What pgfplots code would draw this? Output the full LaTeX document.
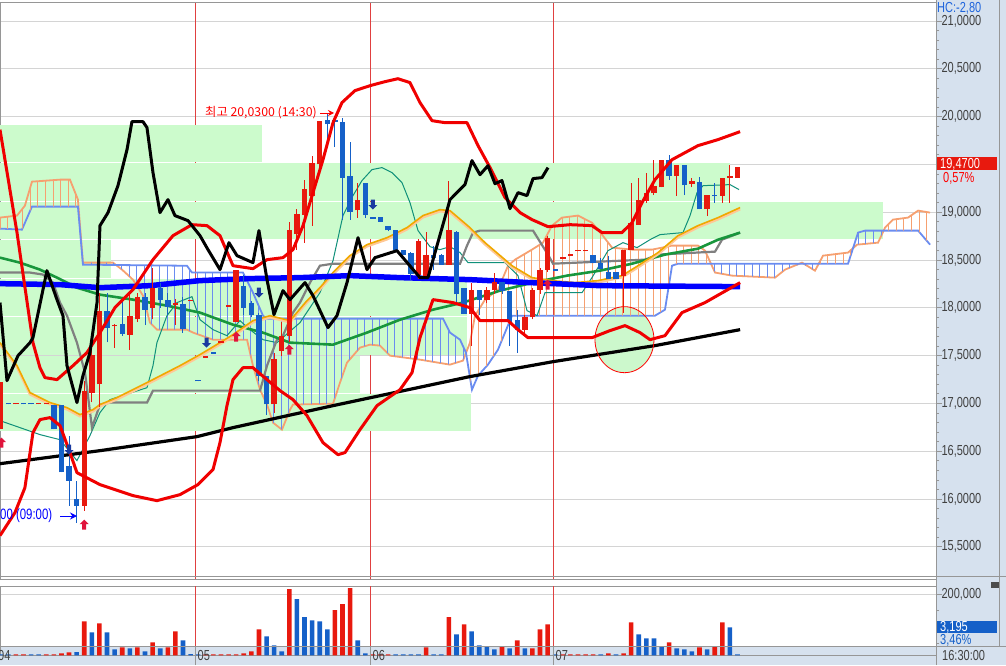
\documentclass[border=0pt]{standalone}
\usepackage{pgfplots}
\usepackage{pgfplotstable}
\pgfplotsset{compat=1.18}
\usetikzlibrary{patterns.meta,arrows.meta}
\usepackage{fontspec}
\setmainfont{Liberation Sans}
\newfontfamily\numfont[FakeStretch=0.76]{Liberation Sans}
\newfontfamily\krfont{Noto Sans CJK KR}

\definecolor{cred}{RGB}{232,25,14}
\definecolor{cblue}{RGB}{21,96,200}
\definecolor{bbred}{RGB}{240,0,0}
\definecolor{boxgreen}{RGB}{204,251,204}
\definecolor{panel}{RGB}{214,225,238}
\definecolor{gridgray}{RGB}{212,212,212}
\definecolor{sepgray}{RGB}{150,150,150}
\definecolor{maorange}{RGB}{240,168,0}
\definecolor{mapeach}{RGB}{255,200,150}
\definecolor{magreen}{RGB}{24,150,60}
\definecolor{kijun}{RGB}{128,128,128}
\definecolor{tenkan}{RGB}{16,144,122}
\definecolor{spanA}{RGB}{246,160,112}
\definecolor{spanB}{RGB}{106,140,240}
\definecolor{dayred}{RGB}{224,64,64}
\definecolor{arrred}{RGB}{224,20,60}
\definecolor{arrblue}{RGB}{26,58,160}
\definecolor{txtgray}{RGB}{64,64,64}
\definecolor{circgreen}{RGB}{204,248,204}
\definecolor{hcblue}{RGB}{30,100,220}

\pgfdeclareplotmark{uparr}{%
  \pgfpathmoveto{\pgfqpoint{0pt}{5pt}}%
  \pgfpathlineto{\pgfqpoint{4.5pt}{0.5pt}}%
  \pgfpathlineto{\pgfqpoint{2pt}{0.5pt}}%
  \pgfpathlineto{\pgfqpoint{2pt}{-5pt}}%
  \pgfpathlineto{\pgfqpoint{-2pt}{-5pt}}%
  \pgfpathlineto{\pgfqpoint{-2pt}{0.5pt}}%
  \pgfpathlineto{\pgfqpoint{-4.5pt}{0.5pt}}%
  \pgfpathclose\pgfusepathqfill}
\pgfdeclareplotmark{dnarr}{%
  \pgfpathmoveto{\pgfqpoint{0pt}{-5pt}}%
  \pgfpathlineto{\pgfqpoint{4.5pt}{-0.5pt}}%
  \pgfpathlineto{\pgfqpoint{2pt}{-0.5pt}}%
  \pgfpathlineto{\pgfqpoint{2pt}{5pt}}%
  \pgfpathlineto{\pgfqpoint{-2pt}{5pt}}%
  \pgfpathlineto{\pgfqpoint{-2pt}{-0.5pt}}%
  \pgfpathlineto{\pgfqpoint{-4.5pt}{-0.5pt}}%
  \pgfpathclose\pgfusepathqfill}

\pgfplotstableread{
i o h l c
-26 16.73 17.22 16.73 17.22
-24 16.99 17.00 16.99 17.00
-21 16.99 17.00 16.99 17.00
-20 16.99 17.00 16.99 17.00
-15 15.93 17.24 15.88 17.13
-14 17.11 17.64 17.01 17.51
-13 17.20 18.16 16.96 17.97
-11 17.805 17.83 17.58 17.825
-9 17.72 18.16 17.56 17.91
-8 17.88 18.16 17.85 18.11
-6 18.00 18.42 17.88 18.21
-3 18.03 18.09 17.82 18.05
-1 18.07 18.08 18.07 18.08
1 17.48 17.50 17.48 17.50
3 17.63 17.65 17.63 17.65
4 18.01 18.03 18.01 18.03
5 17.85 18.40 17.85 18.40
10 16.99 17.53 16.90 17.46
11 17.55 17.85 17.50 17.71
12 17.71 18.90 17.64 18.81
13 18.77 19.03 18.61 18.98
14 18.97 19.34 18.68 19.24
15 19.17 19.59 18.86 19.51
16 19.50 19.95 19.45 19.95
21 19.02 19.31 18.94 19.13
29 18.34 18.72 18.30 18.70
30 18.32 18.79 18.30 18.55
33 18.45 19.33 18.45 18.81
36 17.94 18.26 17.60 18.19
38 18.08 18.22 18.05 18.19
39 18.19 18.36 18.15 18.27
43 17.77 17.92 17.71 17.90
44 17.90 18.21 17.88 18.19
45 18.19 18.42 18.15 18.40
46 18.40 18.75 18.38 18.73
48 18.51 18.53 18.51 18.53
49 18.54 18.56 18.54 18.56
50 18.59 18.61 18.59 18.61
51 18.59 18.61 18.59 18.61
56 18.33 18.61 17.95 18.61
57 18.61 19.31 18.61 18.89
58 18.87 19.36 18.87 19.13
59 19.12 19.41 19.10 19.20
60 19.20 19.55 19.18 19.27
61 19.26 19.55 19.26 19.55
63 19.38 19.49 19.17 19.49
65 19.30 19.36 19.26 19.33
67 19.03 19.18 18.96 19.18
69 19.17 19.36 19.10 19.36
70 19.36 19.49 19.10 19.375
71 19.36 19.47 19.36 19.47
}\redc
\pgfplotstableread{
i o h l c
-25 17.00 17.00 16.99 16.99
-23 17.00 17.00 16.99 16.99
-22 17.00 17.00 16.99 16.99
-19 16.98 16.98 16.73 16.73
-18 16.98 16.98 16.28 16.28
-17 16.35 16.66 15.93 16.19
-16 16.00 16.19 15.75 15.93
-12 17.97 18.16 17.64 17.79
-10 17.83 18.09 17.71 17.73
-7 18.11 18.16 17.82 17.98
-5 18.21 18.26 18.00 18.08
-4 18.08 18.16 17.92 18.01
-2 18.04 18.11 17.74 17.78
0 17.25 17.25 17.23 17.23
2 17.54 17.54 17.52 17.52
6 18.23 18.34 17.92 18.00
7 18.05 18.07 17.90 17.92
8 17.92 17.95 17.24 17.29
9 17.29 17.29 16.88 16.99
17 19.96 20.03 19.78 19.92
18 19.96 19.99 19.68 19.94
19 19.94 19.99 18.92 19.36
20 19.38 19.73 18.92 19.00
22 19.31 19.31 18.94 18.97
23 18.95 18.95 18.93 18.93
24 18.95 18.95 18.90 18.90
25 18.86 18.86 18.80 18.81
26 18.81 18.81 18.61 18.61
27 18.61 18.61 18.55 18.55
28 18.57 18.58 18.29 18.35
31 18.55 18.65 18.40 18.52
32 18.55 18.56 18.45 18.45
34 18.79 18.80 18.05 18.14
35 18.21 18.21 17.94 17.94
37 18.19 18.19 17.92 18.08
40 18.27 18.27 18.15 18.18
41 18.18 18.18 17.60 17.85
42 17.87 17.98 17.53 17.77
47 18.41 18.41 18.39 18.39
52 18.55 18.55 18.47 18.47
53 18.47 18.52 18.41 18.41
54 18.38 18.54 18.30 18.30
55 18.38 18.38 18.30 18.30
62 19.55 19.60 19.34 19.38
64 19.49 19.49 19.18 19.28
66 19.32 19.37 19.03 19.03
68 19.18 19.31 19.10 19.165
}\bluec

\pgfplotstableread{
i v
-24 3500
-23 3500
-20 3500
-19 3500
-18 6600
-17 9800
-15 111500
-13 104900
-10 26200
-8 26200
-6 42600
-4 26200
-3 78700
1 3500
2 3500
3 3500
4 3500
5 3500
6 6600
7 13100
8 85300
12 216400
18 147600
19 167200
20 219700
23 3500
24 3500
25 3500
30 26200
33 124600
35 101600
40 29500
42 49200
44 23000
45 85300
46 101600
48 3500
49 3500
50 3500
51 3500
52 3500
54 6600
56 6600
57 108200
62 42600
66 26200
68 29500
69 108200
}\redv
\pgfplotstableread{
i v
-26 3500
-25 3500
-22 3500
-21 3500
-16 10900
-14 75400
-12 75400
-11 19700
-9 23000
-7 13100
-5 23000
-2 49200
-1 4400
0 3500
9 62300
10 32800
11 13100
13 183600
14 124600
15 114800
16 111500
17 85300
21 49200
22 6600
26 3500
27 3500
28 3500
29 3500
31 3500
32 3500
34 68900
36 78700
37 32800
38 29500
39 19700
41 23000
43 23000
47 3500
53 3500
55 3500
58 68900
59 55700
60 55700
61 29500
63 23000
64 19700
65 13100
67 19700
70 91800
71 3195
}\bluev

\pgfplotstableread{
i v
-25.9 16.59
-15 15.733
5 17.699
12 17.563
46 18.243
}\uparrows
\pgfplotstableread{
i v
-17 16.517
1.1 17.636
8 18.159
23 19.080
}\dnarrows

\pgfplotsset{
  candle/.style={draw=none, mark=none, forget plot, error bars/.cd, y dir=plus, y explicit, error mark=none},
  panelaxis/.style={
    scale only axis, axis line style={draw=sepgray, line width=0.6pt},
    xtick=\empty, ytick pos=right, yticklabel pos=right,
    tick align=outside, major tick length=6pt, minor tick length=3pt,
    tick style={draw=sepgray, line width=0.8pt},
    ymajorgrids, grid style={draw=gridgray, line width=0.9pt},
    yticklabel style={font=\numfont\fontsize{14.5}{14.5}\selectfont, text=txtgray, xshift=-4pt},
  },
}
\tikzset{lbl/.style={font=\numfont\fontsize{14.5}{14.5}\selectfont}}

\begin{document}
\begin{tikzpicture}[x=1pt,y=1pt]
\useasboundingbox (0,0) rectangle (1006,665);
\fill[panel] (936,0) rectangle (1006,665);
\fill[panel] (0,0) rectangle (1006,18.5);

\begin{axis}[panelaxis,
  at={(0,89.6)}, anchor=south west,
  width=936pt, height=576.7pt,
  xmin=-26.09, xmax=97.13, ymin=15.160, ymax=21.1925,
  ytick={15.5,16,16.5,17,17.5,18,18.5,19,19.5,20,20.5,21},
  yticklabels={{15,5000},{16,0000},{16,5000},{17,0000},{17,5000},{18,0000},{18,5000},{19,0000},{19,5000},{20,0000},{20,5000},{21,0000}},
  minor y tick num=4,
]
\draw[dayred, line width=0.8pt] (axis cs:-0.34,15.16) -- (axis cs:-0.34,21.19);
\draw[dayred, line width=0.8pt] (axis cs:22.66,15.16) -- (axis cs:22.66,21.19);
\draw[dayred, line width=0.8pt] (axis cs:46.76,15.16) -- (axis cs:46.76,21.19);
% volume-profile boxes
\addplot[fill=boxgreen, draw=none] coordinates {(-26.09,19.916) (8.40,19.916) (8.40,19.529) (-26.09,19.529)};
\addplot[fill=boxgreen, draw=none] coordinates {(-26.09,19.519) (70.01,19.519) (70.01,19.121) (-26.09,19.121)};
\addplot[fill=boxgreen, draw=none] coordinates {(-26.09,19.111) (90.15,19.111) (90.15,18.724) (-26.09,18.724)};
\addplot[fill=boxgreen, draw=none] coordinates {(-26.09,18.713) (-11.48,18.713) (-11.48,18.316) (-26.09,18.316)};
\addplot[fill=boxgreen, draw=none] coordinates {(-26.09,18.305) (35.39,18.305) (35.39,17.918) (-26.09,17.918)};
\addplot[fill=boxgreen, draw=none] coordinates {(-26.09,17.908) (35.39,17.908) (35.39,17.510) (-26.09,17.510)};
\addplot[fill=boxgreen, draw=none] coordinates {(-26.09,17.500) (21.30,17.500) (21.30,17.113) (-26.09,17.113)};
\addplot[fill=boxgreen, draw=none] coordinates {(-26.09,17.102) (35.91,17.102) (35.91,16.715) (-26.09,16.715)};
\fill[circgreen] (axis cs:56.12,17.667) ellipse [x radius=29.5pt, y radius=33pt];
% ichimoku cloud lines
\addplot[spanA, line width=1.8pt] coordinates {
(-26.09,18.944) (-23.85,18.965) (-22.81,19.069) (-21.88,19.320) (-18.19,19.341) (-16.88,19.341) (-15.83,19.132) (-15.17,18.473) (-11.22,18.473) (-10.03,18.400) (-8.59,18.295) (-7.27,18.128) (-6.35,17.845) (-5.43,17.772) (-1.48,17.772) (-0.68,17.741) (1.95,17.667) (6.43,17.667) (7.21,17.395) (8.14,17.144) (9.06,16.988) (9.85,16.799) (11.03,16.726) (12.09,16.935) (12.48,16.988) (17.75,16.998) (18.67,17.218) (19.59,17.427) (21.30,17.584) (22.62,17.615) (23.93,17.605) (25.25,17.500) (29.20,17.458) (33.15,17.406) (34.86,17.448) (35.78,17.636) (36.44,17.918) (37.76,18.086) (39.47,18.190) (40.79,18.441) (41.71,18.504) (43.94,18.609) (45.39,18.682) (46.58,18.860) (47.89,18.944) (50.00,18.965) (51.84,18.891) (53.16,18.766) (54.48,18.630) (57.11,18.609) (59.74,18.609) (62.38,18.651) (65.80,18.651) (66.72,18.598) (68.04,18.369) (70.28,18.337) (75.94,18.316) (77.26,18.400) (79.49,18.473) (81.20,18.389) (82.26,18.546) (85.55,18.578) (86.74,18.661) (89.50,18.682) (90.42,18.839) (91.47,18.923) (93.45,18.944) (94.77,19.017) (96.35,18.996)};
\addplot[spanB, line width=1.8pt] coordinates {
(-26.09,18.829) (-23.20,18.818) (-21.88,19.059) (-15.83,19.059) (-15.17,18.452) (-2.40,18.441) (-1.48,18.441) (-0.82,18.369) (5.90,18.369) (7.21,18.159) (8.53,17.918) (9.06,17.887) (32.23,17.887) (33.15,17.741) (34.47,17.667) (35.25,17.532) (36.04,17.144) (36.84,17.291) (38.15,17.406) (39.47,17.563) (40.39,17.741) (41.31,17.918) (60.14,17.918) (61.45,17.981) (62.38,18.441) (63.16,18.462) (85.55,18.462) (86.87,18.787) (87.79,18.808) (94.77,18.808) (96.35,18.661)};
% cloud hatching
\addplot[draw=none, pattern={Lines[angle=90,distance=7.596pt,line width=1pt]}, pattern color=spanA] coordinates {
(-26.09,18.944) (-23.85,18.965) (-22.81,19.069) (-21.88,19.320) (-18.19,19.341) (-16.88,19.341) (-15.83,19.132) (-15.5,18.80) (-15.5,18.76) (-15.83,19.059) (-21.88,19.059) (-23.20,18.818) (-26.09,18.829)};
\addplot[draw=none, pattern={Lines[angle=90,distance=7.596pt,line width=1pt]}, pattern color=spanB] coordinates {
(-15.17,18.452) (-2.40,18.441) (-1.48,18.441) (-0.82,18.369) (5.90,18.369) (7.21,18.159) (8.53,17.918) (9.06,17.887) (32.23,17.887) (33.15,17.741) (34.47,17.667) (35.25,17.532) (34.86,17.448) (33.15,17.406) (29.20,17.458) (25.25,17.500) (23.93,17.605) (22.62,17.615) (21.30,17.584) (19.59,17.427) (18.67,17.218) (17.75,16.998) (12.48,16.988) (12.09,16.935) (11.03,16.726) (9.85,16.799) (9.06,16.988) (8.14,17.144) (7.21,17.395) (6.43,17.667) (1.95,17.667) (-0.68,17.741) (-1.48,17.772) (-5.43,17.772) (-6.35,17.845) (-7.27,18.128) (-8.59,18.295) (-10.03,18.400) (-11.22,18.473) (-15.17,18.473)};
\addplot[draw=none, pattern={Lines[angle=90,distance=7.596pt,line width=1pt]}, pattern color=spanA] coordinates {
(35.25,17.532) (35.78,17.636) (36.44,17.918) (37.76,18.086) (39.47,18.190) (40.79,18.441) (41.71,18.504) (43.94,18.609) (45.39,18.682) (46.58,18.860) (47.89,18.944) (50.00,18.965) (51.84,18.891) (53.16,18.766) (54.48,18.630) (57.11,18.609) (59.74,18.609) (62.38,18.651) (65.80,18.651) (66.72,18.598) (67.50,18.462) (63.16,18.462) (62.38,18.441) (61.45,17.981) (60.14,17.918) (41.31,17.918) (40.39,17.741) (39.47,17.563) (38.15,17.406) (36.84,17.291) (36.04,17.144)};
\addplot[draw=none, pattern={Lines[angle=90,distance=7.596pt,line width=1pt]}, pattern color=spanB] coordinates {
(67.50,18.462) (81.69,18.462) (81.20,18.389) (79.49,18.462) (77.26,18.400) (75.94,18.316) (70.28,18.337) (68.04,18.369)};
\addplot[draw=none, pattern={Lines[angle=90,distance=7.596pt,line width=1pt]}, pattern color=spanA] coordinates {
(81.69,18.462) (82.26,18.546) (85.55,18.578) (86.21,18.624) (85.55,18.462)};
\addplot[draw=none, pattern={Lines[angle=90,distance=7.596pt,line width=1pt]}, pattern color=spanB] coordinates {
(86.21,18.624) (86.87,18.787) (87.79,18.808) (90.24,18.808) (89.50,18.682) (86.74,18.661)};
\addplot[draw=none, pattern={Lines[angle=90,distance=7.596pt,line width=1pt]}, pattern color=spanA] coordinates {
(90.24,18.808) (90.42,18.839) (91.47,18.923) (93.45,18.944) (94.77,19.017) (96.35,18.996) (96.35,18.661) (94.77,18.808)};
% tenkan
\addplot[tenkan, line width=1pt] coordinates {
(-26.09,16.820) (-20.83,16.674) (-18.19,16.621) (-15.96,16.402) (-14.25,16.663) (-12.93,16.904) (-11.61,17.040) (-6.74,17.165) (-5.95,17.395) (-5.43,17.636) (-4.11,17.918) (-2.79,18.055) (-0.82,18.117) (0.24,17.876) (1.95,17.772) (3.79,17.709) (5.50,17.866) (6.82,17.772) (8.53,17.667) (10.37,17.636) (13.40,17.845) (16.03,18.159) (17.75,18.494) (19.06,18.965) (20.38,19.174) (21.56,19.331) (22.88,19.446) (24.20,19.467) (25.51,19.415) (26.83,19.310) (27.88,19.101) (28.94,18.808) (30.52,18.640) (31.83,18.609) (33.15,18.640) (34.47,18.578) (35.52,18.473) (40.39,18.473) (42.10,18.337) (43.29,17.971) (44.61,17.918) (45.66,18.159) (50.53,18.159) (51.84,18.316) (53.95,18.598) (55.92,18.682) (57.77,18.630) (59.48,18.713) (60.80,18.766) (63.82,18.787) (64.75,18.965) (65.67,19.205) (66.46,19.278) (70.01,19.289) (71.20,19.237)};
% kijun
\addplot[kijun, line width=2.2pt] coordinates {
(-26.09,18.369) (-22.14,18.369) (-20.43,18.348) (-19.12,18.264) (-18.19,18.055) (-17.27,17.918) (-15.96,17.636) (-14.90,17.322) (-13.98,16.747) (-12.93,16.988) (-11.61,17.009) (-6.74,17.009) (-5.95,17.134) (8.14,17.134) (9.06,17.395) (10.37,17.667) (11.16,17.709) (12.48,17.950) (13.40,18.055) (14.72,18.264) (16.03,18.441) (17.75,18.462) (34.47,18.462) (35.39,18.651) (36.18,18.787) (37.10,18.808) (44.08,18.808) (46.05,18.557) (46.71,18.462) (58.82,18.504) (60.53,18.557) (68.04,18.588) (68.96,18.713) (71.34,18.787)};
% green MA
\addplot[magreen, line width=2.6pt] coordinates {
(-26.09,18.525) (-23.47,18.473) (-20.83,18.400) (-18.59,18.316) (-15.96,18.211) (-12.93,18.138) (-8.59,18.086) (-4.11,18.023) (0.24,17.950) (4.58,17.824) (8.53,17.741) (12.09,17.636) (17.75,17.615) (22.22,17.741) (26.57,17.876) (30.91,17.981) (34.86,18.055) (39.73,18.180) (44.08,18.264) (48.56,18.337) (52.90,18.389) (57.11,18.462) (61.45,18.557) (65.80,18.619) (68.44,18.713) (71.34,18.787)};
% orange MA with peach companion
\addplot[mapeach, line width=2.6pt, yshift=-1.6pt] coordinates {
(-26.09,17.636) (-23.85,17.395) (-22.14,17.113) (-19.51,17.009) (-17.27,16.956) (-15.56,16.883) (-13.85,16.935) (-12.93,16.988) (-10.69,17.061) (-6.74,17.218) (-2.40,17.395) (0.24,17.511) (2.87,17.636) (4.58,17.720) (7.21,17.866) (9.45,17.918) (12.09,17.866) (14.32,18.075) (16.03,18.211) (17.75,18.369) (19.98,18.546) (22.22,18.661) (24.85,18.734) (27.49,18.839) (29.59,18.965) (31.83,19.027) (33.15,19.017) (35.78,18.839) (37.76,18.682) (41.31,18.441) (43.94,18.316) (46.58,18.285) (49.61,18.264) (52.64,18.285) (55.79,18.337) (57.90,18.441) (60.53,18.578) (63.16,18.755) (65.80,18.860) (68.44,18.944) (71.34,19.049)};
\addplot[maorange, line width=1.6pt] coordinates {
(-26.09,17.636) (-23.85,17.395) (-22.14,17.113) (-19.51,17.009) (-17.27,16.956) (-15.56,16.883) (-13.85,16.935) (-12.93,16.988) (-10.69,17.061) (-6.74,17.218) (-2.40,17.395) (0.24,17.511) (2.87,17.636) (4.58,17.720) (7.21,17.866) (9.45,17.918) (12.09,17.866) (14.32,18.075) (16.03,18.211) (17.75,18.369) (19.98,18.546) (22.22,18.661) (24.85,18.734) (27.49,18.839) (29.59,18.965) (31.83,19.027) (33.15,19.017) (35.78,18.839) (37.76,18.682) (41.31,18.441) (43.94,18.316) (46.58,18.285) (49.61,18.264) (52.64,18.285) (55.79,18.337) (57.90,18.441) (60.53,18.578) (63.16,18.755) (65.80,18.860) (68.44,18.944) (71.34,19.049)};
% long MAs
\addplot[blue, line width=5.5pt] coordinates {
(-26.09,18.253) (-18.19,18.243) (-12.93,18.211) (-6.35,18.232) (0.24,18.285) (6.82,18.306) (13.40,18.316) (19.98,18.337) (26.57,18.316) (35.78,18.295) (43.68,18.264) (52.90,18.232) (71.34,18.222)};
\addplot[black, line width=3.2pt] coordinates {
(-26.09,16.370) (-12.93,16.506) (-0.16,16.653) (4.58,16.747) (17.75,16.977) (35.78,17.281) (46.71,17.437) (60.14,17.605) (71.34,17.772)};
% candles: wicks then bodies
\addplot[candle, error bar style={line width=1pt, draw=cred}]
  table[x=i, y=l, y error plus expr={\thisrow{h}-\thisrow{l}}]{\redc};
\addplot[candle, error bar style={line width=5.4pt, draw=cred}]
  table[x=i, y=o, y error plus expr={\thisrow{c}-\thisrow{o}}]{\redc};
\addplot[candle, error bar style={line width=1pt, draw=cblue}]
  table[x=i, y=l, y error plus expr={\thisrow{h}-\thisrow{l}}]{\bluec};
\addplot[candle, error bar style={line width=5.4pt, draw=cblue}]
  table[x=i, y=c, y error plus expr={\thisrow{o}-\thisrow{c}}]{\bluec};
% Bollinger bands
\addplot[bbred, line width=3pt, line join=round] coordinates {
(-26.09,19.864) (-23.85,18.787) (-21.75,17.636) (-20.83,17.374) (-20.17,17.270) (-18.59,17.249) (-16.48,17.395) (-14.64,17.532) (-12.93,17.741) (-10.96,18.002) (-8.59,18.190) (-5.95,18.504) (-3.32,18.755) (-0.82,18.870) (1.16,18.860) (2.87,18.755) (4.58,18.441) (7.21,18.410) (9.06,18.504) (11.16,18.525) (12.48,18.609) (13.80,18.860) (15.11,19.205) (16.43,19.550) (17.75,19.937) (18.93,20.147) (20.64,20.272) (22.62,20.324) (24.59,20.366) (26.30,20.397) (27.88,20.356) (29.20,20.147) (30.78,19.958) (32.49,19.937) (35.39,19.937) (36.84,19.697) (38.42,19.467) (40.39,19.153) (42.37,18.996) (43.94,18.923) (46.05,18.849) (48.95,18.870) (51.84,18.860) (53.16,18.787) (55.79,18.787) (57.11,18.891) (58.43,19.101) (60.14,19.341) (62.38,19.550) (65.80,19.697) (68.44,19.760) (71.34,19.843)};
\addplot[bbred, line width=3pt, line join=round] coordinates {
(-26.09,15.617) (-24.12,15.858) (-22.81,16.119) (-21.75,16.695) (-20.83,16.831) (-19.51,16.852) (-18.19,16.768) (-16.88,16.486) (-15.96,16.276) (-12.93,16.151) (-8.59,16.036) (-5.43,15.983) (-2.40,16.046) (-0.03,16.151) (1.95,16.308) (2.87,16.590) (3.79,16.977) (4.58,17.249) (5.90,17.374) (7.21,17.374) (9.06,17.249) (10.77,17.134) (12.48,17.040) (14.32,16.873) (16.43,16.590) (18.40,16.464) (19.33,16.486) (21.30,16.726) (23.54,16.977) (26.57,17.144) (28.15,17.322) (29.20,17.688) (30.91,18.086) (33.54,18.055) (35.78,18.002) (37.10,17.866) (40.79,17.866) (42.10,17.772) (43.42,17.688) (51.84,17.688) (54.21,17.762) (56.19,17.814) (58.16,17.741) (59.48,17.667) (61.45,17.709) (63.69,17.950) (66.72,18.055) (71.34,18.264)};
% lagging span
\addplot[black, line width=3pt, line join=round] coordinates {
(-26.09,18.055) (-25.17,17.239) (-23.72,17.500) (-22.14,17.636) (-21.75,17.688) (-19.91,18.389) (-18.59,18.086) (-17.80,17.918) (-17.27,17.395) (-15.96,17.009) (-15.17,17.291) (-14.25,17.532) (-13.32,18.055) (-12.93,18.860) (-11.87,18.996) (-10.56,19.278) (-9.37,19.655) (-8.72,19.948) (-7.27,19.948) (-6.74,19.885) (-5.95,19.415) (-5.03,18.996) (-3.98,19.132) (-3.06,18.965) (-1.34,18.912) (0.24,18.755) (1.29,18.609) (2.87,18.400) (4.05,18.682) (5.11,18.546) (7.21,18.473) (8.00,18.808) (9.06,18.295) (9.98,17.929) (11.16,18.180) (12.09,18.086) (14.06,18.264) (15.11,18.128) (17.09,17.793) (18.27,17.918) (19.59,18.264) (21.04,18.734) (22.22,18.400) (23.27,18.525) (26.17,18.598) (29.20,18.316) (30.25,18.316) (33.15,19.132) (35.12,19.289) (36.04,19.540) (37.10,19.393) (38.15,19.487) (39.07,19.299) (39.99,19.331) (41.05,19.038) (42.10,19.205) (43.29,19.174) (44.08,19.352) (45.26,19.362) (46.05,19.467)};
\draw[red, line width=0.8pt] (axis cs:56.12,17.667) ellipse [x radius=29.5pt, y radius=33pt];
\addplot[only marks, mark=uparr, color=arrred] table[x=i,y=v]{\uparrows};
\addplot[only marks, mark=dnarr, color=arrblue] table[x=i,y=v]{\dnarrows};
\end{axis}

\begin{axis}[panelaxis,
  at={(0,31.3)}, anchor=south west,
  width=936pt, height=69.6pt,
  xmin=-26.09, xmax=97.13, ymin=0, ymax=227213,
  ytick={200000}, yticklabels={200{,}000}, scaled y ticks=false,
  minor ytick={39300,75400,111500,147500},
]
\draw[dayred, line width=0.8pt] (axis cs:-0.34,0) -- (axis cs:-0.34,227000);
\draw[dayred, line width=0.8pt] (axis cs:22.66,0) -- (axis cs:22.66,227000);
\draw[dayred, line width=0.8pt] (axis cs:46.76,0) -- (axis cs:46.76,227000);
\addplot[ybar, bar width=4.6pt, bar shift=0pt, fill=cred, draw=none] table[x=i,y=v]{\redv};
\addplot[ybar, bar width=4.6pt, bar shift=0pt, fill=cblue, draw=none] table[x=i,y=v]{\bluev};
\end{axis}

\draw[sepgray, line width=1pt] (0,88.3) -- (1006,88.3);
\draw[sepgray, line width=1pt] (0,18.5) -- (1006,18.5);
\draw[sepgray, line width=1pt] (999,18.5) -- (999,665);
\draw[sepgray, line width=1pt] (936,0) -- (936,665);
\foreach \xx in {195.6,370.3,553.4} \draw[sepgray, line width=1pt] (\xx,0) -- (\xx,18.5);

\node[anchor=west, inner sep=0pt, text=red, font=\krfont\fontsize{12.3}{12.3}\selectfont] at (205,552) {최고 20,0300 (14:30)};
\draw[red, line width=0.9pt, -{Stealth[length=6pt,width=6pt]}] (320,552) -- (334,552);
\node[anchor=west, inner sep=0pt, text=blue, font=\numfont\fontsize{15}{15}\selectfont] at (0,149) {00 (09:00)};
\draw[blue, line width=1pt, -{Stealth[length=7pt,width=7pt]}] (60,149) -- (77,149);

\fill[cred] (937,494.5) rectangle (997,507.5);
\node[anchor=west, inner sep=0pt, text=white, lbl] at (940,501) {19,4700};
\node[anchor=west, inner sep=0pt, text=red, lbl] at (943,486.3) {0,57\%};
\node[anchor=west, inner sep=0pt, text=hcblue, lbl] at (937,656.5) {HC:-2,80};
\node[anchor=west, inner sep=0pt, text=red, lbl] at (937,670.5) {20:20:07};
\fill[cblue] (937,31.7) rectangle (997,44.3);
\node[anchor=west, inner sep=0pt, text=white, lbl] at (940,38) {3,195};
\node[anchor=west, inner sep=0pt, text=cblue, lbl] at (940,25) {3,46\%};
\fill[black!70] (991,77.5) rectangle (999,83);
\node[anchor=west, inner sep=0pt, text=txtgray, lbl] at (-2,9.5) {04};
\node[anchor=west, inner sep=0pt, text=txtgray, lbl] at (197.5,9.5) {05};
\node[anchor=west, inner sep=0pt, text=txtgray, lbl] at (372.5,9.5) {06};
\node[anchor=west, inner sep=0pt, text=txtgray, lbl] at (555.5,9.5) {07};
\node[anchor=west, inner sep=0pt, text=txtgray, lbl] at (942,9.5) {16:30:00};
\end{tikzpicture}
\end{document}
